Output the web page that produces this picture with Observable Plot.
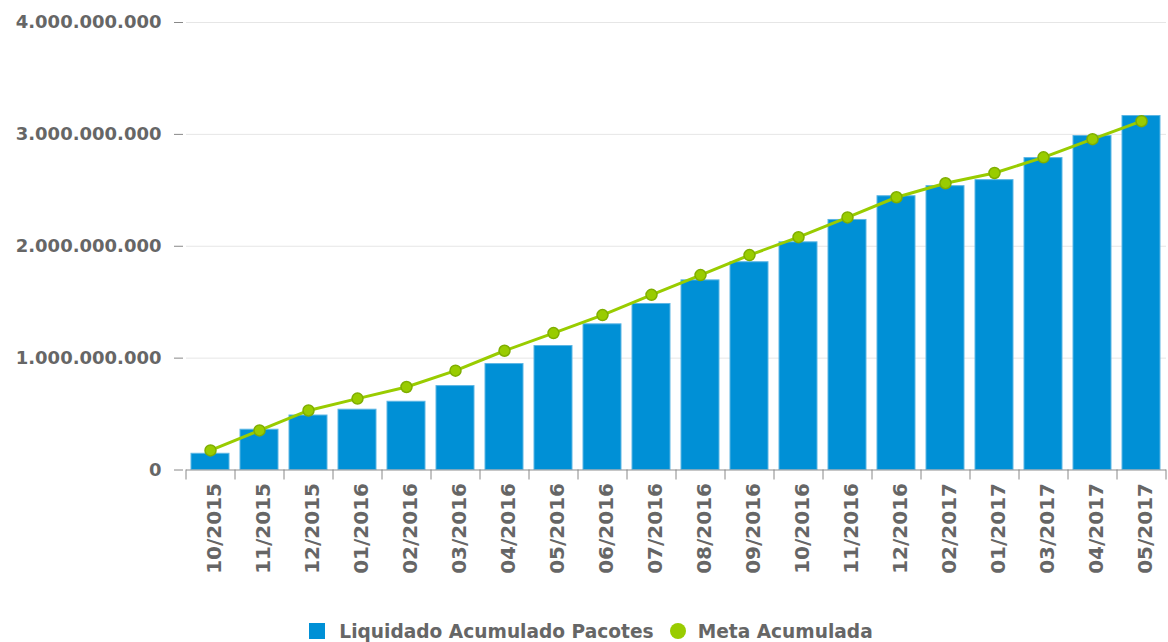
<!DOCTYPE html>
<html><head><meta charset="utf-8">
<script src="https://cdn.jsdelivr.net/npm/d3@7"></script>
<script src="https://cdn.jsdelivr.net/npm/@observablehq/plot@0.6"></script>
<style>
body{margin:0;background:#fff;font-family:"DejaVu Sans";}
#chart svg{display:block;}
#legend{display:flex;justify-content:center;align-items:center;height:32px;padding-left:14px;font:bold 18.6px "DejaVu Sans";color:#666;}
#legend .item{display:flex;align-items:center;margin:0 8px;}
#legend .sq{width:16px;height:16px;margin-right:14px;}
#legend .ci{width:16px;height:16px;border-radius:50%;margin-right:12px;}
</style></head><body><div id="chart"></div><div id="legend"></div>
<script>
const months = ["10/2015","11/2015","12/2015","01/2016","02/2016","03/2016","04/2016","05/2016","06/2016","07/2016","08/2016","09/2016","10/2016","11/2016","12/2016","02/2017","01/2017","03/2017","04/2017","05/2017"];
const liquidado = [145000000,360000000,487000000,539000000,610000000,750000000,947000000,1108000000,1302000000,1484000000,1695000000,1857000000,2035000000,2235000000,2447000000,2537000000,2591000000,2788000000,2985000000,3164000000];
const meta = [175000000,354000000,532000000,638000000,742000000,888000000,1066000000,1224000000,1385000000,1566000000,1742000000,1921000000,2081000000,2258000000,2438000000,2563000000,2655000000,2795000000,2957000000,3118000000];
const yTicks = [0,1000000000,2000000000,3000000000,4000000000];
const seriesNames = ["Liquidado Acumulado Pacotes","Meta Acumulada"];
const colors = ["#0090d6","#99cc00"];

const data = months.map((m,i)=>({month:m, liquidado:liquidado[i], meta:meta[i]}));
const fmt = d3.formatLocale({decimal:",",thousands:".",grouping:[3],currency:["",""]}).format(",d");
const W = 1168, ML = 186, MR = 2;
const halfStep = (W - ML - MR) / months.length / 2;

const chart = Plot.plot({
  width: W, height: 615,
  marginLeft: ML, marginRight: MR, marginTop: 22, marginBottom: 145.5,
  style: {fontFamily: "DejaVu Sans", background: "white"},
  x: {domain: months, paddingInner: 0.22, paddingOuter: 0.11, label: null},
  y: {domain: [0, 4000000000], label: null},
  marks: [
    Plot.gridY(yTicks, {stroke: "#e6e6e6", strokeOpacity: 1}),
    Plot.axisY(yTicks, {tickFormat: fmt, tickSize: 9, tickPadding: 13, dx: -3, fontSize: 18, fontWeight: "bold", fill: "#666", stroke: "#888"}),
    Plot.barY(data, {x: "month", y: "liquidado", fill: colors[0], stroke: "#5cb6e4", strokeWidth: 1}),
    Plot.ruleY([0], {stroke: "#999"}),
    Plot.axisX(months, {tickSize: 10, tickFormat: null, dx: -halfStep, stroke: "#888"}),
    Plot.axisX([months[months.length-1]], {tickSize: 10, tickFormat: null, dx: halfStep, stroke: "#888"}),
    Plot.axisX(months, {tickSize: 0, tickPadding: 13, tickRotate: -90, fontSize: 20, fontWeight: "bold", fill: "#666", dx: 4}),
    Plot.lineY(data, {x: "month", y: "meta", stroke: colors[1], strokeWidth: 3}),
    Plot.dot(data, {x: "month", y: "meta", r: 5.5, fill: colors[1], stroke: "#7fae00", strokeWidth: 1.5})
  ]
});
document.getElementById("chart").appendChild(chart);

const legend = document.getElementById("legend");
seriesNames.forEach((name, i) => {
  const item = document.createElement("div");
  item.className = "item";
  const sw = document.createElement("span");
  sw.className = i === 0 ? "sq" : "ci";
  sw.style.background = colors[i];
  item.appendChild(sw);
  const t = document.createElement("span");
  t.textContent = name;
  item.appendChild(t);
  legend.appendChild(item);
});
</script></body></html>
